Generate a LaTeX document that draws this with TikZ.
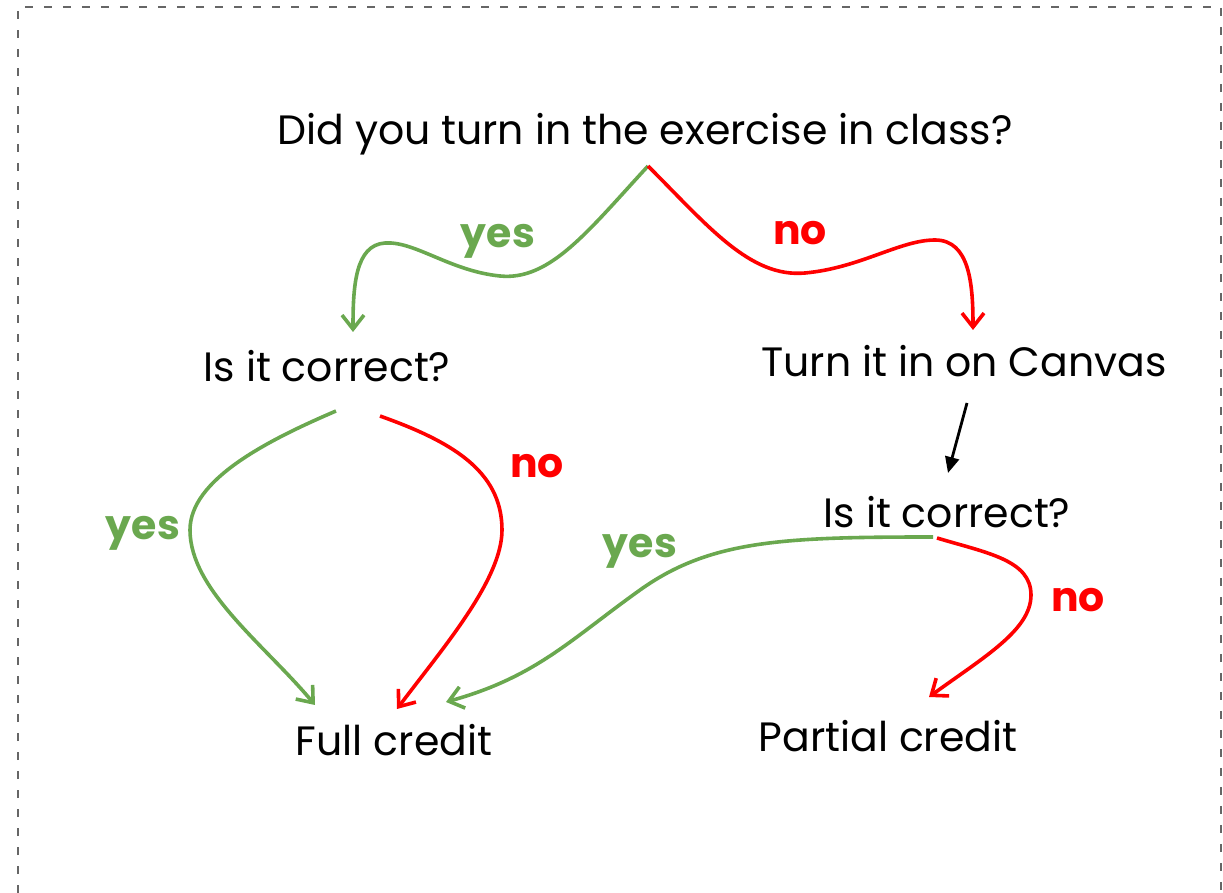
\documentclass[tikz,border=0pt]{standalone}
\usepackage{fontspec}
\setmainfont{Poppins}
\usepackage{xcolor}
\usetikzlibrary{arrows.meta}

\definecolor{yesgreen}{HTML}{6AA84F}
\definecolor{nored}{HTML}{FF0000}
\definecolor{framegray}{HTML}{666666}

\begin{document}
\begin{tikzpicture}[
  x=0.5pt, y=-0.5pt,
  txt/.style={anchor=base, inner sep=0pt, font=\fontsize{20.5}{25}\selectfont},
  lbl/.style={anchor=base, inner sep=0pt, font=\fontsize{20.5}{25}\selectfont\bfseries},
  yesarrow/.style={-{Straight Barb[length=7pt,width=11pt]}, line width=1.8pt, yesgreen},
  noarrow/.style={-{Straight Barb[length=7pt,width=11pt]}, line width=1.8pt, nored},
  plain/.style={-{Triangle[length=8pt,width=7pt]}, line width=1.4pt, black},
]
  \useasboundingbox (0,0) rectangle (1223,893);
  \draw[framegray, line width=1pt, dash pattern=on 4pt off 5.5pt]
    (18,893) -- (18,7) -- (1221,7) -- (1221,893);

  \node[txt] (inclass) at (645,145) {Did you turn in the exercise in class?};
  \node[txt] (correctA) at (327,382) {Is it correct?};
  \node[txt] (canvas) at (964,377) {Turn it in on Canvas};
  \node[txt] (correctB) at (947,528) {Is it correct?};
  \node[txt] (full) at (394,755) {Full credit};
  \node[txt] (partial) at (888,752) {Partial credit};

  \node[lbl, text=yesgreen] (yesA) at (498,248) {yes};
  \node[lbl, text=nored] (noA) at (800,245) {no};
  \node[lbl, text=yesgreen] (yesB) at (143,540) {yes};
  \node[lbl, text=nored] (noB) at (537,478) {no};
  \node[lbl, text=yesgreen] (yesC) at (640,558) {yes};
  \node[lbl, text=nored] (noC) at (1078,612) {no};

  \draw[yesarrow] ([shift={(3,21)}]inclass.base) .. controls +(-60,65) and +(50,5) .. (500,276)
    .. controls +(-50,-5) and +(30,-2) .. (385,243)
    .. controls +(-30,2) and +(0,-45) .. ([shift={(26,-50)}]correctA.base);
  \draw[noarrow] ([shift={(3,21)}]inclass.base) .. controls +(60,60) and +(-55,5) .. (805,273)
    .. controls +(55,-5) and +(-35,0) .. (935,240)
    .. controls +(35,0) and +(0,-45) .. ([shift={(9,-47)}]canvas.base);
  \draw[yesarrow] ([shift={(9,29)}]correctA.base) .. controls +(-70,30) and +(0,-50) .. (190,530)
    .. controls +(0,60) and +(-50,-60) .. ([shift={(-79,-50)}]full.base);
  \draw[noarrow] ([shift={(53,34)}]correctA.base) .. controls +(70,25) and +(0,-60) .. (502,530)
    .. controls +(0,50) and +(45,-60) .. ([shift={(3,-46)}]full.base);
  \draw[plain] ([shift={(3,26)}]canvas.base) -- ([shift={(1,-55)}]correctB.base);
  \draw[yesarrow] ([shift={(-14,9)}]correctB.base) .. controls +(-150,0) and +(70,-50) .. (640,590)
    .. controls +(-70,50) and +(90,-25) .. ([shift={(52,-53)}]full.base);
  \draw[noarrow] ([shift={(-10,10)}]correctB.base) .. controls +(50,15) and +(0,-35) .. (1031,595)
    .. controls +(0,35) and +(55,-40) .. ([shift={(41,-55)}]partial.base);
\end{tikzpicture}
\end{document}
